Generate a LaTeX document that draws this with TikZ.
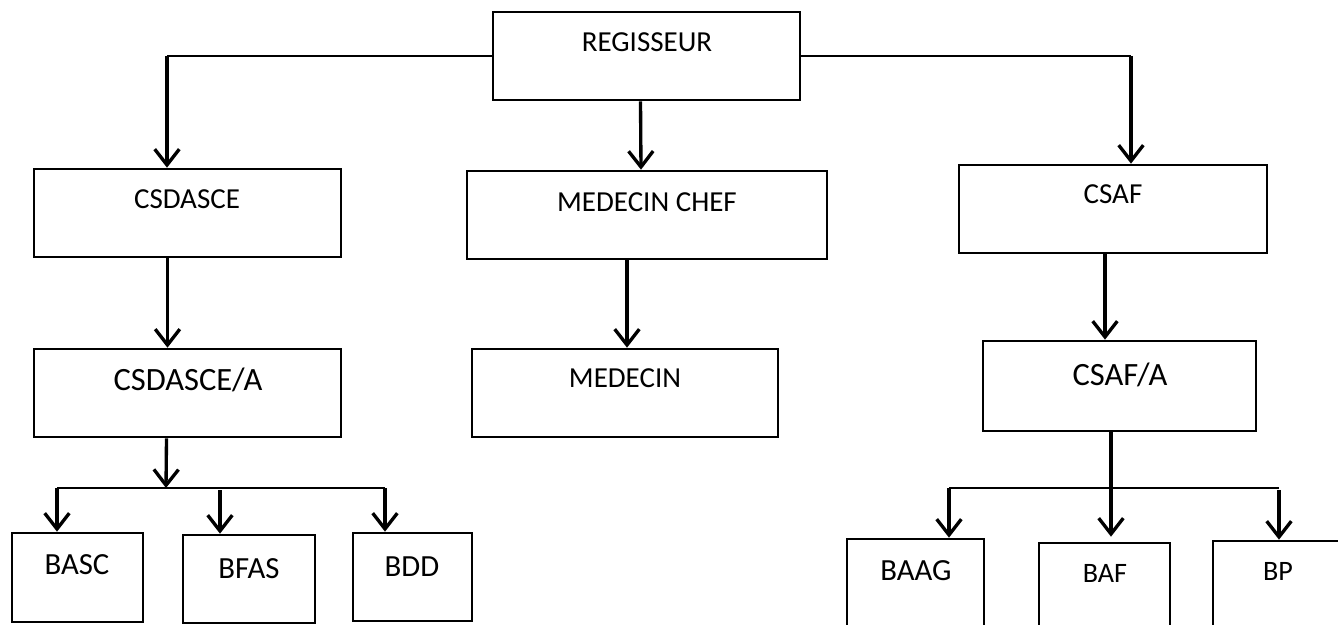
\documentclass[tikz,border=0pt]{standalone}
\usepackage{fontspec}
\setmainfont{Carlito}
\usepackage{tikz}
\usetikzlibrary{arrows.meta}
\usetikzlibrary{calc}
\tikzstyle{orgbox}=[rectangle,draw,line width=1.5pt,inner sep=0pt]
\tikzstyle{boxlabel}=[anchor=base,inner sep=0pt]
\tikzstyle{edge} = [draw,line width=1.9pt,-{Straight Barb[length=9pt,width=14pt]}]
\tikzstyle{branch} = [draw,line width=1pt]

\begin{document}
\begin{tikzpicture}[x=0.02cm, y=-0.02cm]

    \path[use as bounding box] (0,0) rectangle (1338,625);
    \clip (0,0) rectangle (1338,625);

    % First we draw the boxes
    \foreach \xa/\ya/\xb/\yb/\name in {493/12/800/100/reg, 34/169/341/257/csd, 467/171/827/259/mc, 959/165/1267/253/csaf,
        34/349/341/437/csda, 472/349/778/437/med, 983/341/1256/431/csafa,
        12/533/143/622/basc, 183/535/315/623/bfas, 353/533/472/621/bdd,
        847/539/984/660/baag, 1039/543/1170/660/baf, 1213/541/1360/660/bp}
        \node[orgbox, minimum width={(\xb-\xa)*0.02cm}, minimum height={(\yb-\ya)*0.02cm}] (\name) at ({(\xa+\xb)/2},{(\ya+\yb)/2}) {};

    % Then the texts, near the top of each box
    \foreach \x/\y/\name/\size/\label in {647/52/reg/16.5/REGISSEUR, 187/208/csd/16.5/CSDASCE, 647/211/mc/16.5/MEDECIN CHEF, 1113/203/csaf/16.5/CSAF,
        188/390/csda/18.5/{CSDASCE/A}, 625/387/med/16.5/MEDECIN, 1120/385/csafa/18.5/{CSAF/A},
        77/574/basc/17.5/BASC, 249/578/bfas/17.5/BFAS, 412/576/bdd/17.5/BDD,
        916/580/baag/17.5/BAAG, 1105/582/baf/16/BAF, 1278/580/bp/16/BP}
        \node[boxlabel, font=\fontsize{\size}{\size}\selectfont] (\name-t) at (\x,\y) {\label};

    % Connect the boxes
    \coordinate (lturn) at (167,56);
    \coordinate (rturn) at (1131,56);
    \path[branch] (reg.west) -- (lturn);
    \path[branch] (reg.east) -- (rturn);
    \path[edge] (lturn) -- (lturn |- csd.north);
    \path[edge] (rturn) -- (rturn |- csaf.north);
    \path[edge] ($(reg.south)+(-6,0)$) -- ($(mc.north)+(-6,0)$);

    \path[edge] ($(csd.south)+(-20,0)$) -- ($(csda.north)+(-20,0)$);
    \path[edge] ($(mc.north |- mc.south)+(-20,0)$) -- ($(med.north)+(2,0)$);
    \path[edge] ($(csaf.south)+(-8,0)$) -- ($(csafa.north -| csaf.south)+(-8,0)$);

    % Left group of offices
    \coordinate (ljoin) at (166,488);
    \coordinate (la) at (57,488);
    \coordinate (lb) at (220,490);
    \coordinate (lc) at (385,488);
    \path[edge] ($(csda.south)+(-21,0)$) -- (ljoin);
    \path[branch] (la) -- (lc);
    \path[edge] (la) -- (la |- basc.north);
    \path[edge] (lb) -- (lb |- bfas.north);
    \path[edge] (lc) -- (lc |- bdd.north);

    % Right group of offices
    \coordinate (ra) at (949,488);
    \coordinate (rb) at (1111,431);
    \coordinate (rc) at (1279,490);
    \path[branch] (ra) -- (1279,488);
    \path[edge] (rb) -- ($(rb |- baf.north)+(0,-5)$);
    \path[edge] (ra) -- (ra |- baag.north);
    \path[edge] (rc) -- (rc |- bp.north);

\end{tikzpicture}
\end{document}
